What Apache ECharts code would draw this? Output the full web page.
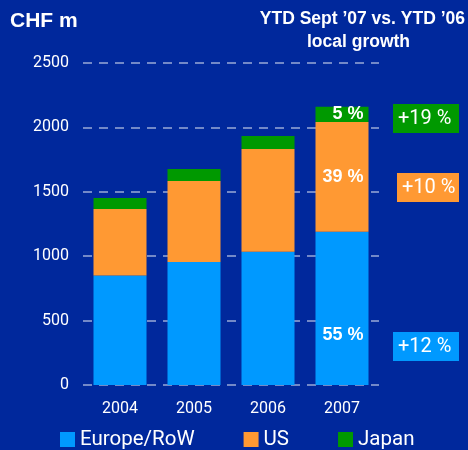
<!DOCTYPE html>
<html><head><meta charset="utf-8">
<script src="https://cdn.jsdelivr.net/npm/echarts@6/dist/echarts.min.js"></script>
<style>html,body{margin:0;padding:0;background:#00289C;}#c{width:468px;height:450px;}</style>
</head><body><div id="c"></div>
<script>
const categories = ['2004', '2005', '2006', '2007'];
const europe = [850, 955, 1035, 1190];
const us = [516, 629, 798, 852];
const japan = [86, 93, 100, 119];
const shares2007 = { europe: '55 %', us: '39 %', japan: '5 %' };
const growth = { japan: '+19 %', us: '+10 %', europe: '+12 %' };
const yTicks = [0, 500, 1000, 1500, 2000, 2500];

const BG = '#00289C', BLUE = '#0099FF', ORANGE = '#FF9933', GREEN = '#009900';
const chart = echarts.init(document.getElementById('c'), null, {renderer: 'canvas'});

function lastLabel(text, offset) {
  return {
    show: true, position: 'insideRight', offset: offset || [0, 0],
    color: '#fff', fontFamily: 'Liberation Sans', fontWeight: 'bold', fontSize: 18,
    formatter: p => p.dataIndex === categories.length - 1 ? text : ''
  };
}

function box(text, left, top, w, color) {
  return { type: 'text', left: left, top: top, style: {
    text: text, fill: '#fff', backgroundColor: color,
    padding: [4, 4, 3, 5], width: w - 9, height: 22, lineHeight: 22,
    font: '20px Roboto' } };
}

chart.setOption({
  backgroundColor: BG,
  animation: false,
  grid: { left: 83, right: 89, top: 63, bottom: 65 },
  xAxis: {
    type: 'category', data: categories,
    axisLine: { show: false }, axisTick: { show: false },
    axisLabel: { color: '#fff', fontFamily: 'Roboto', fontSize: 16, margin: 16 }
  },
  yAxis: {
    type: 'value', min: 0, max: 2500, interval: 500,
    axisLine: { show: false }, axisTick: { show: false },
    axisLabel: { color: '#fff', fontFamily: 'Roboto', fontSize: 16, margin: 14,
      formatter: v => yTicks.includes(v) ? String(v) : '' },
    splitLine: { lineStyle: { color: 'rgba(255,255,255,0.6)', width: 1.5, type: [9, 7] } }
  },
  legend: {
    top: 429, left: 60, padding: 0, itemGap: 49, itemWidth: 15, itemHeight: 15, icon: 'rect',
    textStyle: { color: '#fff', fontFamily: 'Roboto', fontSize: 20.5 },
    data: ['Europe/RoW', 'US', 'Japan']
  },
  series: [
    { name: 'Europe/RoW', type: 'bar', stack: 's', data: europe, barWidth: 53,
      itemStyle: { color: BLUE }, label: lastLabel(shares2007.europe, [0, 27]) },
    { name: 'US', type: 'bar', stack: 's', data: us, barWidth: 53,
      itemStyle: { color: ORANGE }, label: lastLabel(shares2007.us) },
    { name: 'Japan', type: 'bar', stack: 's', data: japan, barWidth: 53,
      itemStyle: { color: GREEN }, label: lastLabel(shares2007.japan) }
  ],
  graphic: [
    { type: 'text', left: 10, top: 11, style: { text: 'CHF m', fill: '#fff',
      font: 'bold 21px "Liberation Sans"' } },
    { type: 'text', right: 3, top: 10, style: { text: 'YTD Sept \u201907 vs. YTD \u201906', fill: '#fff',
      font: 'bold 17.5px "Liberation Sans"' } },
    { type: 'text', left: 307, top: 33, style: { text: 'local growth', fill: '#fff',
      font: 'bold 17.5px "Liberation Sans"' } },
    box(growth.japan, 393, 104, 66, GREEN),
    box(growth.us, 397, 173, 62, ORANGE),
    box(growth.europe, 393, 332, 66, BLUE)
  ]
});
</script></body></html>
